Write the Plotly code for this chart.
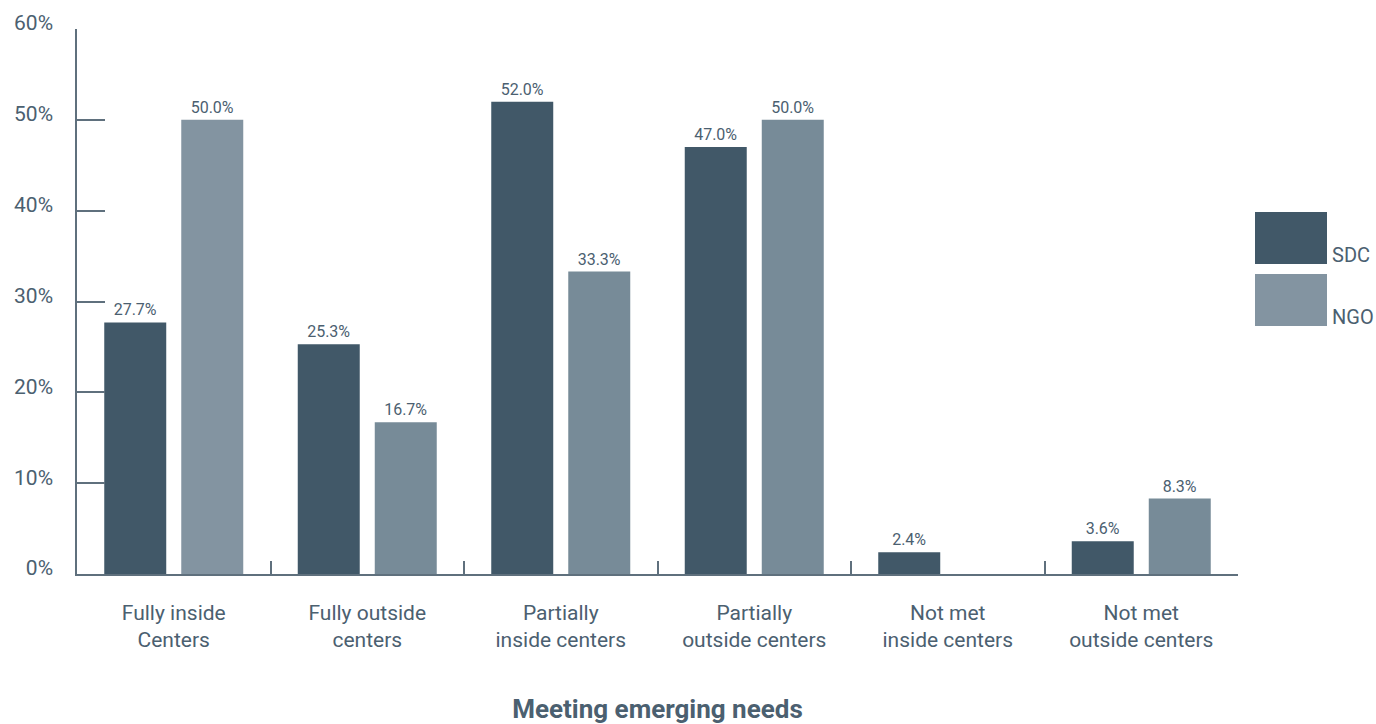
import plotly.graph_objects as go

categories = ["Fully inside<br>Centers", "Fully outside<br>centers", "Partially<br>inside centers",
              "Partially<br>outside centers", "Not met<br>inside centers", "Not met<br>outside centers"]
sdc = [27.7, 25.3, 52.0, 47.0, 2.4, 3.6]
ngo = [50.0, 16.7, 33.3, 50.0, None, 8.3]
y_ticks = [0, 10, 20, 30, 40, 50, 60]
y_tick_labels = ["0%", "10%", "20%", "30%", "40%", "50%", "60%"]

FONT = "Liberation Sans Narrow, Roboto, Arial"
TEXT = "#4b6070"
AXIS = "#5f707d"
SDC_COLOR = "#415868"
NGO_COLORS = ["#8394a1", "#778b98", "#778b98", "#778b98", "#778b98", "#778b98"]


def labels(vals):
    return [("" if v is None else f"{v:.1f}%") for v in vals]


fig = go.Figure()
fig.add_trace(go.Bar(
    x=categories, y=sdc, name="SDC", marker=dict(color=SDC_COLOR, line_width=0),
    text=labels(sdc), textposition="outside", cliponaxis=False,
    textfont=dict(family=FONT, size=16, color=TEXT),
))
fig.add_trace(go.Bar(
    x=categories, y=ngo, name="NGO", marker=dict(color=NGO_COLORS, line_width=0),
    text=labels(ngo), textposition="outside", cliponaxis=False,
    textfont=dict(family=FONT, size=16, color=TEXT),
))

# legend drawn as large swatches to the right of the plot
legend_items = [("SDC", SDC_COLOR, 212, 264), ("NGO", "#8394a1", 274, 326)]
for name, color, top, bottom in legend_items:
    fig.add_shape(type="rect", xref="paper", yref="paper",
                  x0=(1255 - 77) / 1161, x1=(1327 - 77) / 1161,
                  y0=(574 - bottom) / 545, y1=(574 - top) / 545,
                  fillcolor=color, line_width=0)
    fig.add_annotation(text=name, xref="paper", yref="paper",
                       x=(1330 - 77) / 1161, y=(574 - bottom - 5) / 545,
                       xanchor="left", yanchor="bottom", showarrow=False,
                       font=dict(family=FONT, size=20, color=TEXT))

fig.update_layout(
    width=1376, height=724,
    margin=dict(l=77, r=138, t=29, b=150),
    paper_bgcolor="white", plot_bgcolor="white",
    barmode="group", bargap=0.204, bargroupgap=0.195,
    showlegend=False,
    font=dict(family=FONT, color=TEXT),
)
fig.update_xaxes(
    automargin=False,
    showline=True, linecolor=AXIS, linewidth=1.5,
    ticks="inside", tickson="boundaries", ticklen=13, tickcolor=AXIS, tickwidth=1.5,
    tickfont=dict(family=FONT, size=21, color=TEXT),
    ticklabelstandoff=19,
    title=dict(text="<b>Meeting emerging needs</b>", standoff=50,
               font=dict(family=FONT, size=26, color=TEXT)),
    showgrid=False,
)
fig.update_yaxes(
    automargin=False,
    range=[0, 60], tickvals=y_ticks, ticktext=y_tick_labels,
    showline=True, linecolor=AXIS, linewidth=1.5,
    ticks="inside", ticklen=28, tickcolor=AXIS, tickwidth=1.5,
    tickfont=dict(family=FONT, size=21, color=TEXT),
    ticklabelstandoff=18, ticklabelshift=-6,
    showgrid=False, zeroline=False,
)

fig.write_html("out.html")
